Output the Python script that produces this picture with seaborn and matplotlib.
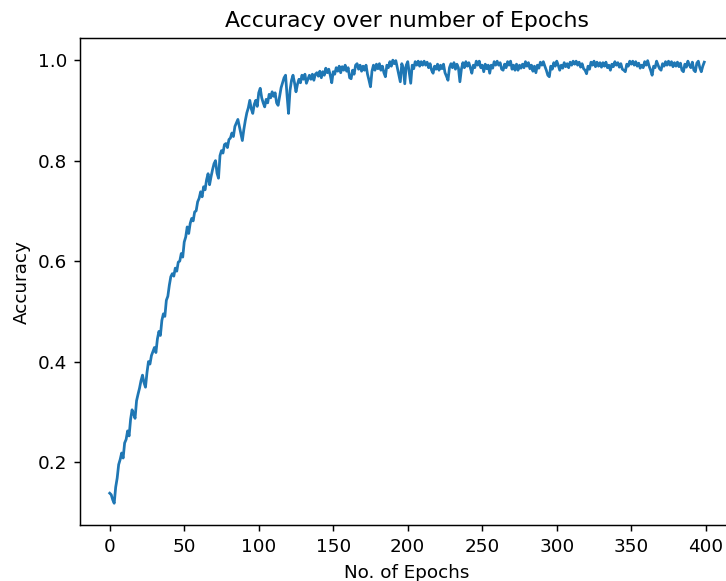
import matplotlib
matplotlib.use("Agg")
import matplotlib.pyplot as plt
import seaborn as sns
import pandas as pd

title = "Accuracy over number of Epochs"
x_label = "No. of Epochs"
y_label = "Accuracy"

# epochs 0..150 (rising phase)
acc_rise = [
    0.138, 0.135, 0.125, 0.118, 0.150, 0.168, 0.195, 0.205, 0.218, 0.208,
    0.238, 0.245, 0.262, 0.252, 0.285, 0.304, 0.296, 0.287, 0.322, 0.335,
    0.347, 0.362, 0.373, 0.358, 0.349, 0.378, 0.400, 0.395, 0.412, 0.420,
    0.428, 0.418, 0.445, 0.460, 0.452, 0.482, 0.495, 0.490, 0.522, 0.530,
    0.552, 0.569, 0.575, 0.570, 0.586, 0.580, 0.598, 0.600, 0.615, 0.608,
    0.638, 0.648, 0.668, 0.655, 0.675, 0.685, 0.680, 0.698, 0.700, 0.718,
    0.725, 0.738, 0.728, 0.748, 0.742, 0.762, 0.774, 0.752, 0.768, 0.782,
    0.794, 0.800, 0.775, 0.765, 0.810, 0.820, 0.815, 0.832, 0.834, 0.826,
    0.842, 0.845, 0.855, 0.848, 0.868, 0.875, 0.882, 0.868, 0.855, 0.840,
    0.862, 0.880, 0.895, 0.905, 0.920, 0.903, 0.894, 0.912, 0.920, 0.908,
    0.935, 0.944, 0.925, 0.915, 0.907, 0.922, 0.915, 0.932, 0.925, 0.937,
    0.928, 0.935, 0.915, 0.910, 0.928, 0.945, 0.955, 0.965, 0.970, 0.930,
    0.894, 0.940, 0.960, 0.970, 0.955, 0.937, 0.952, 0.962, 0.955, 0.970,
    0.962, 0.972, 0.954, 0.962, 0.970, 0.962, 0.972, 0.960, 0.972, 0.975,
    0.968, 0.978, 0.965, 0.977, 0.970, 0.984, 0.975, 0.982, 0.970, 0.955,
    0.977,
]

# epochs 151..399 (plateau)
acc_plateau = [
    0.972, 0.985, 0.978, 0.988, 0.975, 0.987, 0.980, 0.990, 0.978, 0.985,
    0.965, 0.963, 0.980, 0.972, 0.990, 0.993, 0.982, 0.990, 0.978, 0.988,
    0.980, 0.990, 0.972, 0.960, 0.947, 0.978, 0.990, 0.980, 0.992, 0.983,
    0.993, 0.980, 0.988, 0.975, 0.967, 0.990, 0.985, 0.997, 0.988, 1.000,
    0.993, 0.999, 0.985, 0.970, 0.957, 0.993, 0.985, 0.953, 0.990, 0.997,
    0.975, 0.954, 0.990, 0.983, 0.997, 0.990, 0.998, 0.988, 0.997, 0.990,
    0.998, 0.990, 0.996, 0.985, 0.993, 0.980, 0.974, 0.988, 0.982, 0.992,
    0.980, 0.990, 0.983, 0.992, 0.975, 0.968, 0.960, 0.985, 0.993, 0.985,
    0.995, 0.982, 0.992, 0.985, 0.957, 0.982, 0.995, 0.985, 0.997, 0.988,
    0.995, 0.985, 0.974, 0.990, 0.985, 0.998, 0.990, 0.998, 0.985, 0.990,
    0.977, 0.992, 0.983, 0.990, 0.974, 0.990, 0.984, 0.997, 0.990, 0.998,
    0.990, 0.995, 0.982, 0.980, 0.992, 0.985, 0.997, 0.990, 0.998, 0.982,
    0.990, 0.980, 0.992, 0.980, 0.990, 0.984, 0.992, 0.985, 0.997, 0.988,
    0.995, 0.983, 0.990, 0.978, 0.988, 0.975, 0.990, 0.984, 0.996, 0.990,
    0.997, 0.988, 0.980, 0.970, 0.967, 0.988, 0.982, 0.995, 0.988, 0.998,
    0.990, 0.980, 0.990, 0.984, 0.995, 0.987, 0.993, 0.985, 0.996, 0.990,
    0.998, 0.992, 0.998, 0.990, 0.996, 0.986, 0.993, 0.983, 0.980, 0.973,
    0.988, 0.982, 0.996, 0.990, 0.998, 0.987, 0.996, 0.988, 0.995, 0.986,
    0.995, 0.988, 0.996, 0.985, 0.990, 0.980, 0.992, 0.987, 0.997, 0.990,
    0.995, 0.986, 0.993, 0.982, 0.980, 0.977, 0.992, 0.988, 0.998, 0.992,
    0.998, 0.990, 0.997, 0.988, 0.994, 0.984, 0.990, 0.985, 0.997, 0.990,
    0.999, 0.988, 0.980, 0.970, 0.988, 0.985, 0.998, 0.990, 0.983, 0.980,
    0.993, 0.988, 0.997, 0.990, 0.998, 0.990, 0.997, 0.987, 0.995, 0.988,
    0.996, 0.987, 0.994, 0.980, 0.977, 0.992, 0.986, 0.998, 0.990, 0.985,
    0.996, 0.980, 0.977, 0.994, 0.998, 0.985, 0.977, 0.988, 0.996,
]

accuracy = acc_rise + acc_plateau
epochs = list(range(len(accuracy)))

df = pd.DataFrame({"epoch": epochs, "accuracy": accuracy})

DPI = 132
fig = plt.figure(figsize=(726 / DPI, 581 / DPI), dpi=DPI)
ax = fig.add_axes([80 / 726, (581 - 525.4) / 581, 654 / 726, (525.4 - 38) / 581])
sns.lineplot(data=df, x="epoch", y="accuracy", ax=ax, color="#1f77b4", linewidth=1.5)
ax.set_title(title)
ax.set_xlabel(x_label)
ax.set_ylabel(y_label)
ax.set_xticks([0, 50, 100, 150, 200, 250, 300, 350, 400])
ax.set_yticks([0.2, 0.4, 0.6, 0.8, 1.0])
fig.savefig("out.png", dpi=DPI)
